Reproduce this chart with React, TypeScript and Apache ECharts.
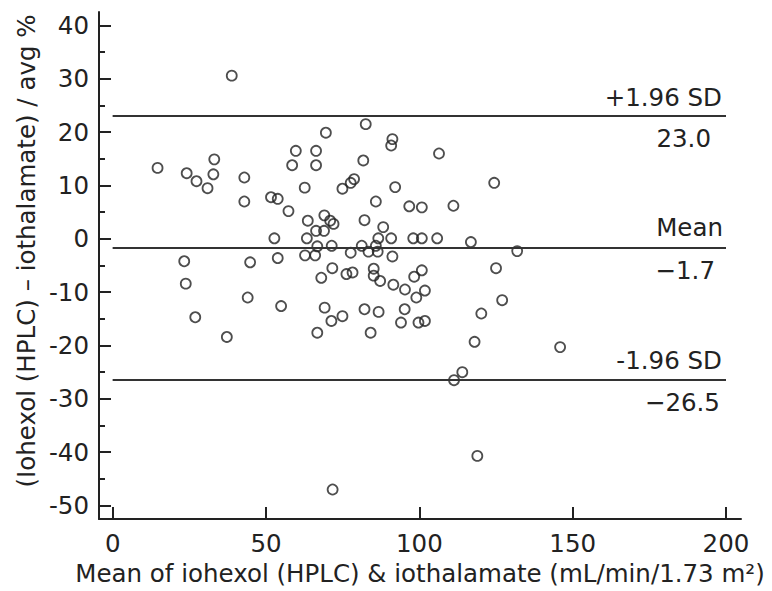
import React, { useEffect, useRef } from "react";
import * as echarts from "echarts";

// Mean of iohexol (HPLC) & iothalamate (mL/min/1.73 m²)
const meanValues: number[] = [
  38.8, 82.5, 69.5, 91.2, 90.8, 59.7, 66.3, 14.6, 33.1, 24.1,
  27.3, 30.9, 32.8, 42.9, 42.9, 58.5, 66.3, 81.7, 62.6, 74.9,
  78.7, 77.6, 92.1, 51.6, 53.8, 57.3, 85.8, 96.7, 100.8, 82.1,
  63.6, 69.0, 70.9, 72.0, 88.2, 66.3, 68.9, 52.7, 63.3, 86.6,
  90.8, 98.0, 100.8, 66.7, 71.4, 81.2, 85.8, 77.6, 83.4, 86.4,
  62.7, 66.0, 91.2, 23.3, 44.8, 53.8, 106.4, 124.4, 111.1, 105.8,
  116.8, 131.9, 125.0, 127.0, 120.2, 118.0, 145.9, 114.0, 111.3, 118.9,
  23.8, 44.0, 26.9, 37.2, 54.9, 68.0, 71.6, 76.2, 78.2, 85.1,
  85.1, 87.2, 91.5, 95.3, 98.3, 100.8, 99.0, 101.8, 69.1, 71.3,
  74.9, 66.7, 82.1, 86.7, 84.1, 95.2, 94.0, 99.7, 101.8, 71.7,
];

// (Iohexol (HPLC) − iothalamate) / avg %
const diffPercent: number[] = [
  30.6, 21.5, 19.9, 18.7, 17.5, 16.5, 16.5, 13.3, 14.9, 12.3,
  10.8, 9.5, 12.1, 11.5, 7.0, 13.8, 13.8, 14.7, 9.6, 9.4,
  11.2, 10.5, 9.7, 7.8, 7.5, 5.2, 7.0, 6.1, 5.9, 3.5,
  3.4, 4.4, 3.4, 2.8, 2.2, 1.5, 1.5, 0.1, 0.1, 0.1,
  0.1, 0.1, 0.1, -1.4, -1.3, -1.3, -1.3, -2.6, -2.4, -2.4,
  -3.1, -3.1, -3.3, -4.2, -4.4, -3.6, 16.0, 10.5, 6.2, 0.1,
  -0.6, -2.3, -5.5, -11.5, -14.0, -19.3, -20.3, -25.0, -26.5, -40.7,
  -8.4, -11.0, -14.7, -18.4, -12.6, -7.3, -5.5, -6.6, -6.3, -5.6,
  -6.9, -7.9, -8.6, -9.5, -7.1, -5.9, -11.0, -9.7, -12.9, -15.4,
  -14.5, -17.6, -13.2, -13.7, -17.6, -13.2, -15.7, -15.7, -15.4, -47.0,
];

const xTicks: number[] = [0, 50, 100, 150, 200];
const yTicks: number[] = [-50, -40, -30, -20, -10, 0, 10, 20, 30, 40];
const yMinorTicks: number[] = [-45, -35, -25, -15, -5, 5, 15, 25, 35];

const limitValues: number[] = [23.0, -1.7, -26.5];
const limitNames: string[] = ["+1.96 SD", "Mean", "-1.96 SD"];
const limitTexts: string[] = ["23.0", "\u22121.7", "\u221226.5"];

const xTitle = "Mean of iohexol (HPLC) & iothalamate (mL/min/1.73 m\u00b2)";
const yTitle = "(Iohexol (HPLC) \u2013 iothalamate) / avg %";

const FONT = "DejaVu Sans";
const FS = 24.5;
const INK = "#222";

export default function App() {
  const ref = useRef<HTMLDivElement>(null);

  useEffect(() => {
    document.body.style.margin = "0";
    if (!ref.current) return;
    const chart = echarts.init(ref.current, undefined, { renderer: "svg" });

    const points = meanValues.map((x, i) => [x, diffPercent[i]]);

    const nameDist = [[4, 6], [3, 8], [4, 7]];
    const valDist = [[15, 10], [11, 10], [6, 10]];

    const markData: any[] = [];
    limitValues.forEach((v, i) => {
      markData.push([
        {
          coord: [0, v],
          label: {
            show: true,
            position: "insideEndTop",
            formatter: limitNames[i],
            distance: nameDist[i],
            color: INK,
            fontFamily: FONT,
            fontSize: FS,
          },
        },
        { coord: [200, v] },
      ]);
      markData.push([
        {
          coord: [0, v],
          label: {
            show: true,
            position: "insideEndBottom",
            formatter: limitTexts[i],
            distance: valDist[i],
            color: INK,
            fontFamily: FONT,
            fontSize: FS,
          },
        },
        { coord: [200, v] },
      ]);
    });

    const option: any = {
      animation: false,
      backgroundColor: "#fff",
      grid: { left: 99, right: 31, top: 12, bottom: 71, containLabel: false },
      xAxis: {
        type: "value",
        min: -4.5,
        max: 204.9,
        name: xTitle,
        nameLocation: "middle",
        nameGap: 42,
        nameTextStyle: { color: INK, fontFamily: FONT, fontSize: FS },
        axisLine: { show: true, onZero: false, lineStyle: { color: INK, width: 2 } },
        axisTick: { show: true, inside: true, length: 12, customValues: xTicks, lineStyle: { color: INK, width: 2 } },
        axisLabel: { show: true, customValues: xTicks, margin: 12, color: INK, fontFamily: FONT, fontSize: FS },
        splitLine: { show: false },
      },
      yAxis: [
        {
          type: "value",
          min: -52.53,
          max: 42.53,
          axisLine: { show: true, onZero: false, lineStyle: { color: INK, width: 2 } },
          axisTick: { show: true, inside: true, length: 12, customValues: yTicks, lineStyle: { color: INK, width: 2 } },
          axisLabel: { show: true, customValues: yTicks, margin: 10, color: INK, fontFamily: FONT, fontSize: FS },
          splitLine: { show: false },
        },
        {
          type: "value",
          min: -52.53,
          max: 42.53,
          position: "left",
          offset: 0,
          axisLine: { show: false, onZero: false },
          axisTick: { show: true, inside: true, length: 6, customValues: yMinorTicks, lineStyle: { color: INK, width: 2 } },
          axisLabel: { show: false },
          splitLine: { show: false },
        },
      ],
      graphic: [
        {
          type: "text",
          x: 26,
          y: 251,
          rotation: Math.PI / 2,
          style: {
            text: yTitle,
            fill: INK,
            fontFamily: FONT,
            fontSize: FS,
            align: "center",
            verticalAlign: "middle",
            textAlign: "center",
            textVerticalAlign: "middle",
          },
        },
      ],
      series: [
        {
          type: "scatter",
          data: points,
          symbol: "circle",
          symbolSize: 10,
          itemStyle: { color: "rgba(255,255,255,0)", borderColor: "#222", borderWidth: 1.8 },
          markLine: {
            silent: true,
            symbol: "none",
            animation: false,
            lineStyle: { color: "#333", width: 2, type: "solid" },
            data: markData,
          },
        },
      ],
    };

    chart.setOption(option);
    return () => chart.dispose();
  }, []);

  return (
    <div
      ref={ref}
      style={{ position: "absolute", left: 0, top: 0, width: 772, height: 591 }}
    />
  );
}
